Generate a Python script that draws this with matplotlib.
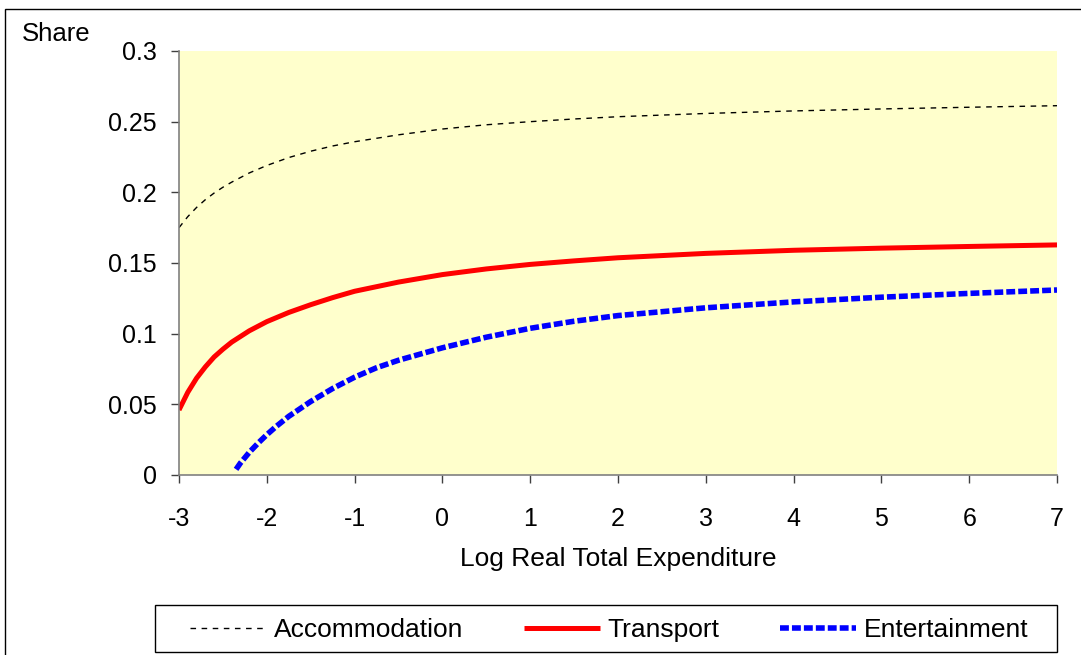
import matplotlib
matplotlib.use("Agg")
import matplotlib.pyplot as plt
import matplotlib.patches as patches

plt.rcParams['font.family'] = ['Liberation Sans', 'DejaVu Sans']

# values
acc_x = [-3, -2.9, -2.8, -2.7, -2.6, -2.5, -2.4, -2.2, -2, -1.75, -1.5, -1.25, -1, -0.5, 0,
         0.5, 1, 1.5, 2, 3, 4, 5, 6, 7]
acc_y = [0.175, 0.1828, 0.1893, 0.1948, 0.1995, 0.2036, 0.2072, 0.2137, 0.2190, 0.2246,
         0.2291, 0.2328, 0.2358, 0.2407, 0.2448, 0.2478, 0.2500, 0.2519, 0.2535, 0.2558,
         0.2576, 0.2590, 0.2602, 0.2613]

tr_x = [-3, -2.9, -2.8, -2.7, -2.6, -2.5, -2.4, -2.2, -2, -1.75, -1.5, -1.25, -1, -0.5, 0,
        0.5, 1, 1.5, 2, 3, 4, 5, 6, 7]
tr_y = [0.046, 0.0585, 0.0685, 0.0765, 0.0835, 0.0890, 0.0940, 0.1020, 0.1085, 0.1150,
        0.1205, 0.1255, 0.1300, 0.1365, 0.1418, 0.1458, 0.1490, 0.1515, 0.1537, 0.1568,
        0.1590, 0.1605, 0.1617, 0.1628]

ent_x = [-2.35, -2.3, -2.2, -2.1, -2, -1.9, -1.75, -1.5, -1.25, -1, -0.75, -0.5, 0, 0.5, 1,
         1.5, 2, 3, 4, 5, 6, 7]
ent_y = [0.004, 0.0085, 0.016, 0.0225, 0.0285, 0.034, 0.0415, 0.052, 0.0612, 0.0692, 0.0759,
         0.0812, 0.0900, 0.0975, 0.1038, 0.1088, 0.1128, 0.1183, 0.1225, 0.1258, 0.1285,
         0.1309]

x_ticks = [-3, -2, -1, 0, 1, 2, 3, 4, 5, 6, 7]
y_ticks = [0, 0.05, 0.1, 0.15, 0.2, 0.25, 0.3]
y_labels = ['0', '0.05', '0.1', '0.15', '0.2', '0.25', '0.3']

W, H = 1081, 655
fig = plt.figure(figsize=(W / 100, H / 100), dpi=100)
ax = fig.add_axes([179 / W, 1 - 475 / H, (1057 - 179) / W, (475 - 51) / H])
ax.set_facecolor('#FFFFCC')

ax.plot(acc_x, acc_y, color='black', lw=1.0, dashes=(4, 4), label='Accommodation')
ax.plot(tr_x, tr_y, color='#FF0000', lw=3.6, solid_capstyle='butt', label='Transport')
ax.plot(ent_x, ent_y, color='#0000FF', lw=4.0, dashes=(1.6, 0.55), dash_capstyle='butt',
        label='Entertainment')

ax.set_xlim(-3, 7)
ax.set_ylim(0, 0.3)
ax.set_xticks(x_ticks)
ax.set_xticklabels([str(v) for v in x_ticks])
ax.set_yticks(y_ticks)
ax.set_yticklabels(y_labels)

for s in ['top', 'right']:
    ax.spines[s].set_visible(False)
for s in ['left', 'bottom']:
    ax.spines[s].set_color('#808080')
    ax.spines[s].set_linewidth(1.2)
ax.tick_params(axis='both', direction='out', length=6, width=1, color='#404040',
               labelsize=18, labelcolor='black')
ax.tick_params(axis='x', pad=17)
ax.tick_params(axis='y', pad=10)

ax.set_xlabel('Log Real Total Expenditure', fontsize=19)
ax.xaxis.set_label_coords(0.5, -0.17)
fig.text(22 / W, 1 - 34 / H, 'Share', fontsize=18.5, va='center', ha='left')

# outer chart border
fig.patches.append(patches.Rectangle((5 / W, -0.05), 1.1, 1 - 9 / H + 0.05,
                                     transform=fig.transFigure, fill=False,
                                     edgecolor='black', lw=1.0))

# legend box drawn separately, entries placed inside it
fig.patches.append(patches.Rectangle((155 / W, 1 - 652 / H), (1057 - 155) / W, 47 / H,
                                     transform=fig.transFigure, fill=False,
                                     edgecolor='black', lw=1.0))
fig.legend(loc='center', ncol=3, bbox_to_anchor=(609 / W, 1 - 630 / H),
           fontsize=19, frameon=False, handlelength=2.9, handletextpad=0.27,
           columnspacing=2.3, borderpad=0, borderaxespad=0)

fig.savefig('out.png', dpi=100)
